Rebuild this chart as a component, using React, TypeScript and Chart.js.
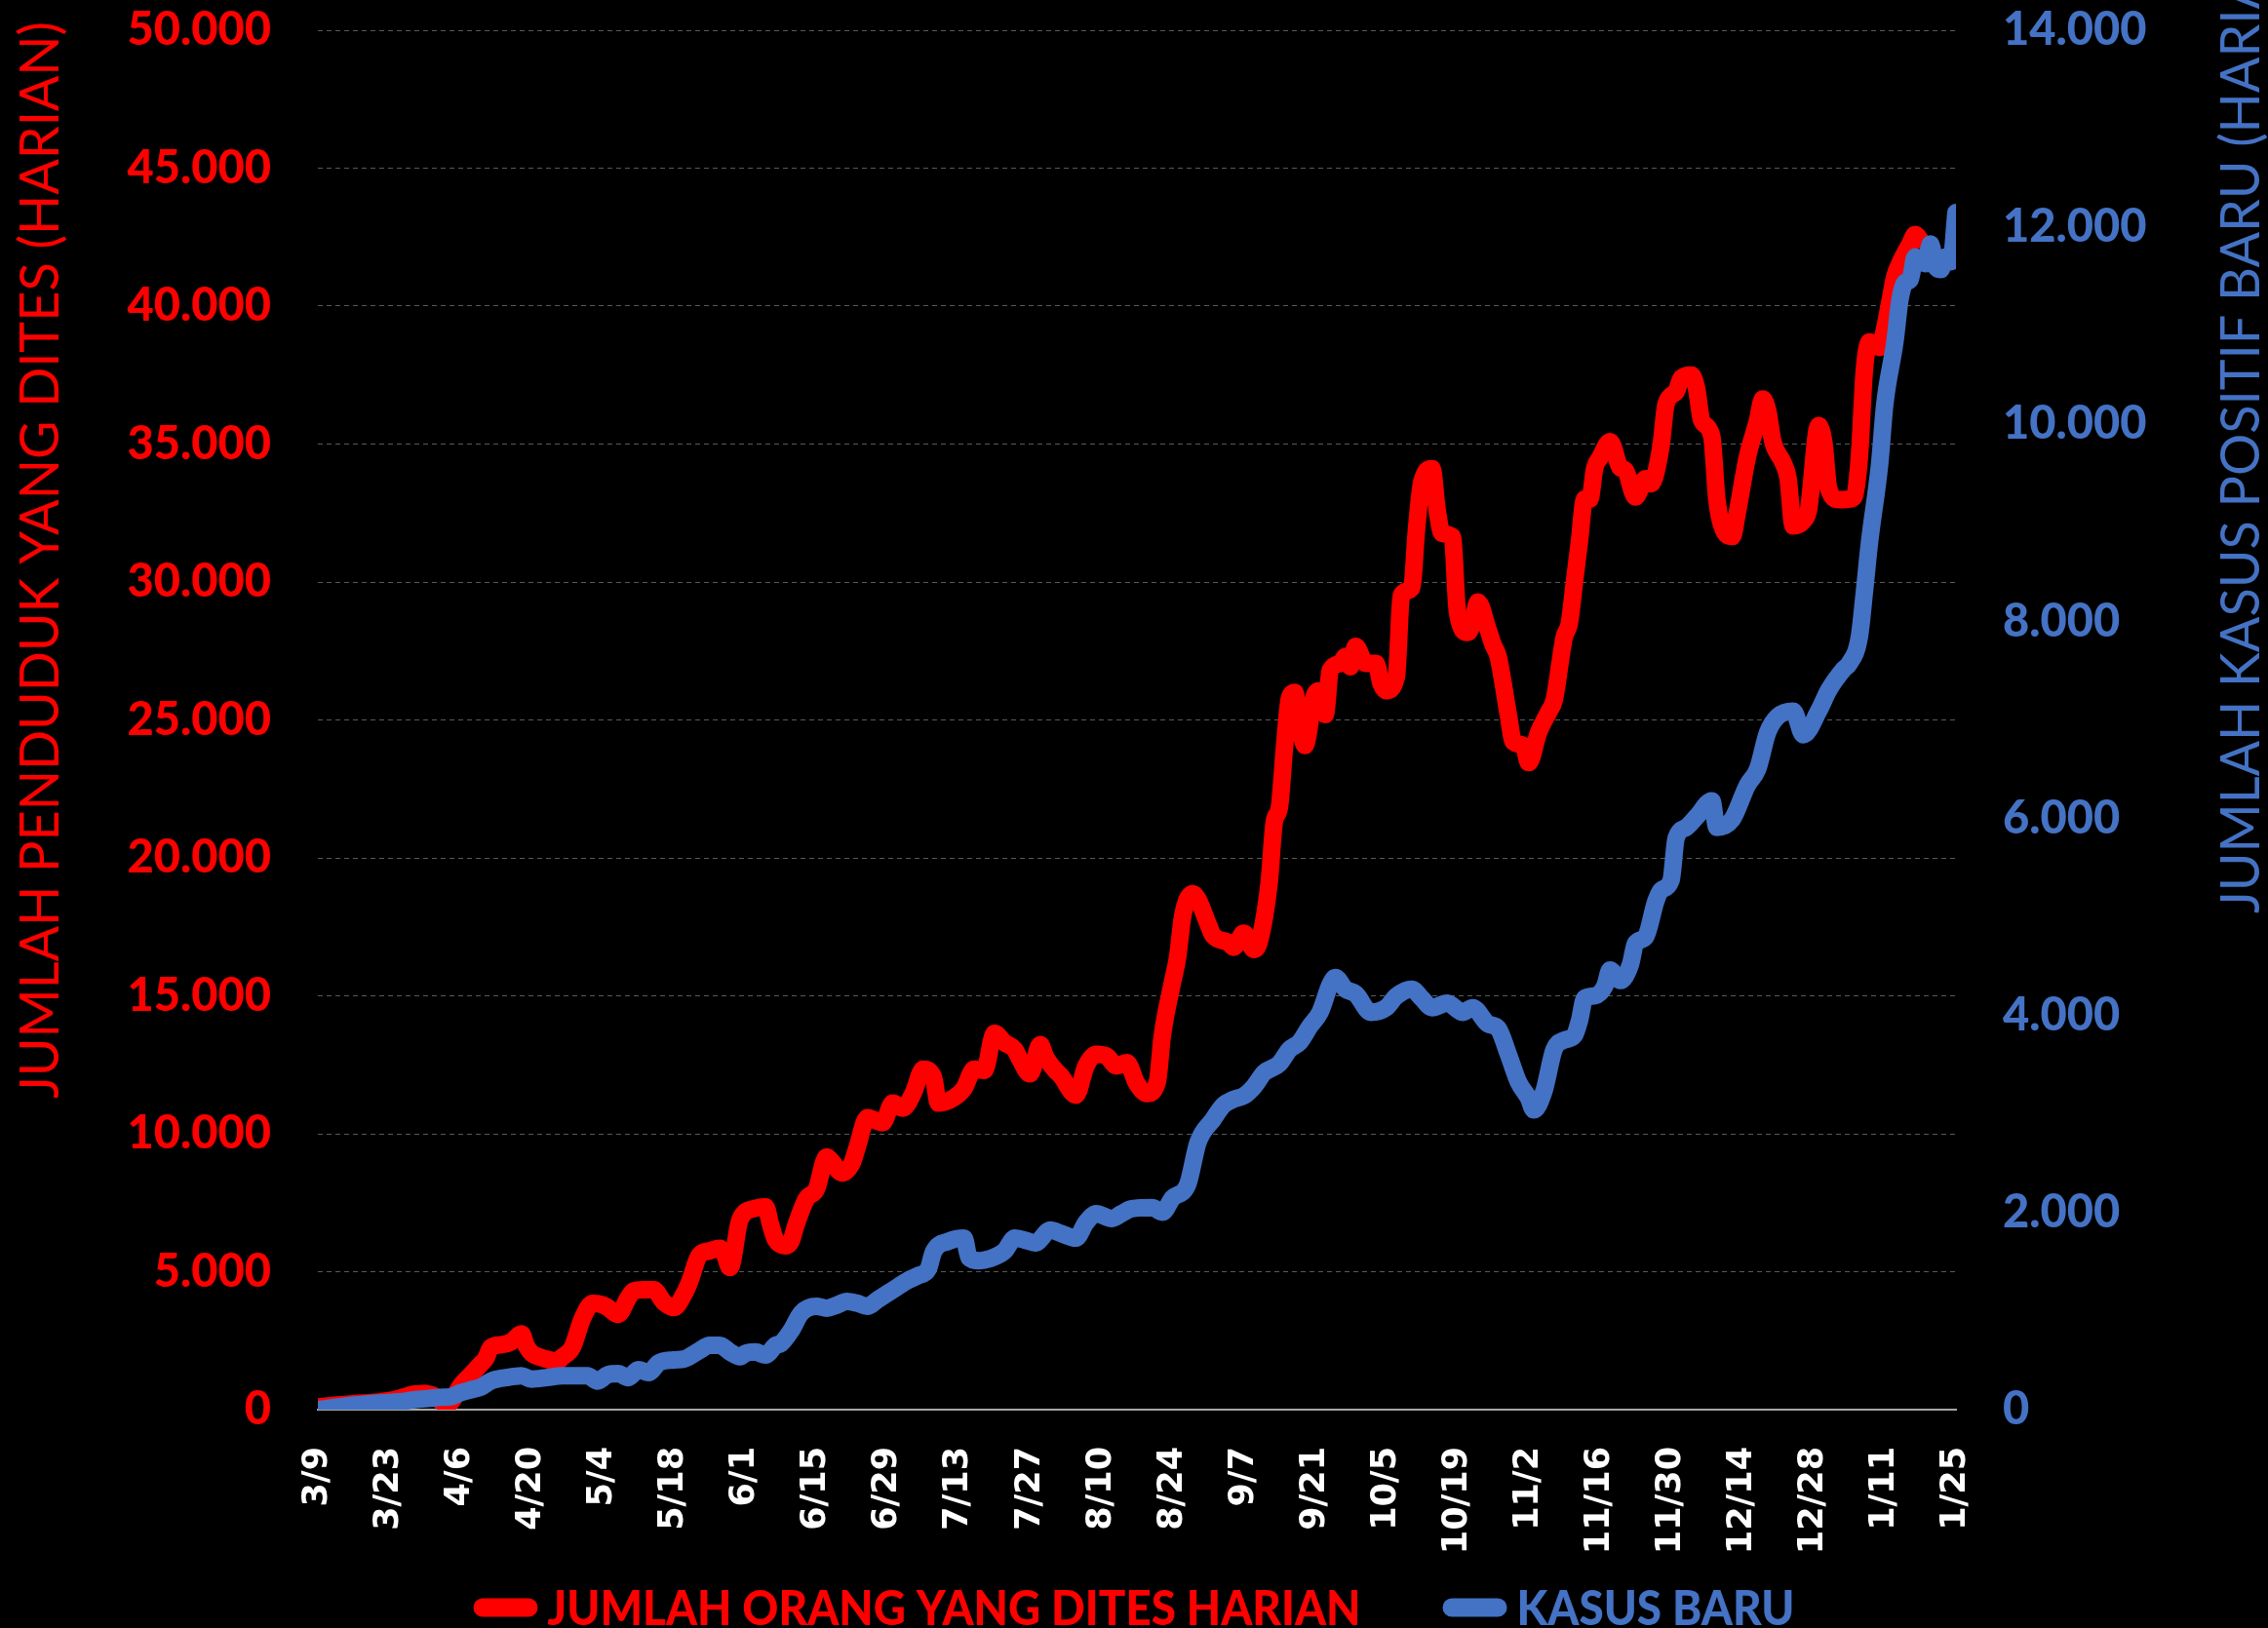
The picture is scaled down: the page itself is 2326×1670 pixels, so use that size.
import React, { useEffect, useRef } from "react";
import { Chart, registerables } from "chart.js";

Chart.register(...registerables);

const dateLabels = [
  "3/9", "3/23", "4/6", "4/20", "5/4", "5/18", "6/1", "6/15", "6/29", "7/13", "7/27", "8/10",
  "8/24", "9/7", "9/21", "10/5", "10/19", "11/2", "11/16", "11/30", "12/14", "12/28", "1/11", "1/25",
];

// day index counted from 3/9 (2020)
const testDays = [
  0, 3, 6, 9, 12, 15, 17, 19, 21, 23, 25, 26, 28, 30, 32, 33, 34, 36, 38, 40, 41, 42, 44, 46, 47, 48, 50,
  52, 54, 56, 57, 59, 61, 62, 64, 66, 68, 70, 72, 73, 75, 77, 79, 80, 81, 83, 86, 88, 89, 90, 92, 93, 94,
  96, 98, 100, 101, 103, 105, 106, 108, 110, 111, 113, 115, 117, 119, 121, 122, 125, 127, 129, 131, 133,
  135, 137, 138, 140, 142, 143, 145, 146, 149, 151, 153, 155, 157, 159, 161, 163, 165, 166, 168, 169, 170,
  172, 173, 175, 176, 179, 180, 182, 184, 185, 187, 188, 189, 190, 191, 192, 193, 194, 196, 197, 198, 199,
  201, 202, 203, 204, 206, 208, 209, 210, 212, 213, 215, 216, 217, 219, 220, 221, 223, 224, 226, 227, 228,
  230, 231, 232, 234, 235, 237, 238, 240, 242, 243, 245, 246, 247, 248, 249, 250, 251, 252, 254, 256, 257,
  259, 261, 262, 264, 265, 267, 268, 270, 271, 272, 274, 275, 276, 278, 279, 281, 283, 284, 285, 286, 288,
  289, 290, 292, 293, 295, 296, 297, 299, 301, 302, 303, 304, 305, 307, 308, 309, 310, 311, 313, 314, 315,
];
const testValues = [
  100, 150, 200, 240, 280, 360, 460, 570, 580, 480, 220, 250, 850, 1250, 1650, 1850, 2250, 2350, 2450, 2750,
  2300, 2050, 1880, 1780, 1740, 1900, 2250, 3300, 3850, 3800, 3700, 3450, 4050, 4300, 4350, 4350, 3900, 3700,
  4200, 4600, 5600, 5750, 5850, 5600, 5150, 6900, 7300, 7350, 6700, 6150, 5940, 6100, 6700, 7630, 7990, 9160,
  9000, 8580, 8940, 9500, 10580, 10450, 10400, 11110, 10930, 11460, 12340, 12050, 11110, 11300, 11640, 12340,
  12300, 13640, 13300, 13050, 12700, 12170, 13230, 12800, 12290, 12110, 11400, 12460, 12880, 12820, 12460,
  12580, 11810, 11460, 11870, 13570, 15500, 16400, 17900, 18700, 18500, 17600, 17180, 16930, 16760, 17270,
  16680, 16930, 19120, 21310, 21820, 24000, 25810, 26000, 24820, 24070, 25940, 26060, 25190, 26800, 27050,
  27300, 26930, 27670, 27050, 27050, 26310, 26060, 26560, 29530, 29780, 32010, 33620, 34110, 32630, 31760,
  31640, 28910, 28170, 28500, 29280, 28290, 27730, 27300, 25190, 24200, 24070, 23450, 24570, 25310, 25700,
  28000, 28500, 30000, 31500, 33000, 33000, 34140, 34500, 35090, 34140, 34050, 33080, 33750, 33560, 34900,
  36440, 36900, 37390, 37500, 37020, 35860, 35280, 32990, 32030, 31650, 32500, 34530, 35860, 36630, 36200,
  35090, 34330, 33750, 32030, 32220, 32600, 35670, 35090, 33370, 32990, 33000, 33100, 34500, 37700, 38700,
  38500, 39200, 40150, 41090, 41560, 42270, 42600, 42400,
];

const caseDays = [
  0, 3, 7, 10, 13, 16, 19, 22, 24, 26, 28, 30, 32, 34, 37, 40, 42, 45, 48, 53, 55, 57, 59, 61, 63, 65, 67,
  70, 72, 75, 77, 79, 81, 83, 84, 86, 88, 90, 91, 93, 95, 98, 100, 102, 104, 106, 108, 110, 112, 114, 116,
  118, 120, 121, 124, 127, 128, 130, 132, 135, 137, 139, 141, 144, 146, 149, 151, 153, 156, 158, 160, 164,
  166, 168, 171, 173, 176, 178, 180, 182, 184, 186, 189, 191, 193, 195, 197, 199, 200, 202, 204, 207, 210,
  212, 215, 217, 219, 222, 225, 227, 230, 232, 234, 236, 238, 239, 241, 243, 245, 247, 248, 249, 251, 253,
  254, 256, 258, 259, 261, 263, 264, 266, 267, 269, 271, 274, 275, 278, 281, 283, 285, 287, 290, 292, 295,
  297, 300, 301, 303, 304, 305, 307, 308, 310, 311, 312, 313, 314, 316, 317, 318, 319, 320, 321, 322,
];
const caseValues = [
  0, 20, 45, 60, 70, 80, 100, 115, 125, 130, 170, 200, 227, 290, 325, 345, 310, 325, 345, 345, 290, 356, 366,
  325, 405, 375, 475, 505, 515, 600, 653, 653, 585, 537, 570, 585, 553, 653, 670, 800, 980, 1049, 1030, 1060,
  1098, 1080, 1049, 1115, 1180, 1247, 1313, 1360, 1428, 1600, 1709, 1741, 1543, 1511, 1530, 1610, 1741, 1720,
  1692, 1823, 1790, 1741, 1900, 1989, 1940, 1990, 2039, 2050, 2004, 2147, 2288, 2712, 2948, 3090, 3150, 3184,
  3278, 3419, 3512, 3656, 3730, 3891, 4033, 4316, 4386, 4268, 4220, 4033, 4080, 4198, 4268, 4174, 4080, 4127,
  4033, 4080, 3915, 3868, 3608, 3325, 3160, 3042, 3231, 3656, 3750, 3800, 3950, 4175, 4200, 4303, 4462, 4355,
  4516, 4730, 4800, 5160, 5270, 5374, 5803, 5910, 6017, 6179, 5910, 5990, 6339, 6500, 6876, 7037, 7090, 6849,
  7090, 7304, 7519, 7570, 7841, 8300, 8800, 9600, 10200, 10840, 11270, 11440, 11470, 11700, 11630, 11830,
  11600, 11570, 11700, 11650, 12150,
];

const RED = "#ff0000";
const BLUE = "#4472c4";
const TEST_LABEL = "JUMLAH ORANG YANG DITES HARIAN";
const CASE_LABEL = "KASUS BARU";
const LEFT_TITLE = "JUMLAH PENDUDUK YANG DITES (HARIAN)";
const RIGHT_TITLE = "JUMLAH KASUS POSITIF BARU (HARIAN)";

const fmt = (v: number) => Math.round(v).toString().replace(/\B(?=(\d{3})+(?!\d))/g, ".");

const bgPlugin = {
  id: "blackBg",
  beforeDraw(chart: any) {
    const { ctx, width, height } = chart;
    ctx.save();
    ctx.fillStyle = "#000000";
    ctx.fillRect(0, 0, width, height);
    ctx.restore();
  },
};

const titlePlugin = {
  id: "axisTitles",
  afterDraw(chart: any) {
    const ctx = chart.ctx as CanvasRenderingContext2D;
    const area = chart.chartArea;
    ctx.save();
    ctx.font = "57px Lato";
    const sx = 1105 / ctx.measureText(LEFT_TITLE).width;
    const draw = (text: string, x: number, y: number, color: string) => {
      ctx.save();
      ctx.translate(x, y);
      ctx.rotate(-Math.PI / 2);
      ctx.scale(sx, 1);
      ctx.fillStyle = color;
      ctx.textAlign = "left";
      ctx.textBaseline = "alphabetic";
      ctx.fillText(text, 0, 0);
      ctx.restore();
    };
    draw(LEFT_TITLE, area.left - 266, area.bottom - 319, RED);
    draw(RIGHT_TITLE, area.right + 311, area.bottom - 509, BLUE);
    ctx.restore();
  },
};

// Legend drawn under the x axis: pill swatch + condensed bold text per dataset
const legendPlugin = {
  id: "pillLegend",
  afterDraw(chart: any) {
    const ctx = chart.ctx as CanvasRenderingContext2D;
    const datasets = chart.data.datasets;
    const swatchW = 66;
    const swatchH = 19;
    const gapText = 10;
    const gapItems = 84;
    const baseline = chart.height - 3;
    const centerY = chart.height - 21;
    ctx.save();
    ctx.font = "900 49px Lato";
    const sx = 834 / ctx.measureText(datasets[0].label).width;
    const widths = datasets.map((d: any) => ctx.measureText(d.label).width * sx);
    const total =
      widths.reduce((a: number, b: number) => a + b, 0) +
      datasets.length * (swatchW + gapText) +
      (datasets.length - 1) * gapItems;
    let x = (chart.width - total) / 2;
    datasets.forEach((d: any, i: number) => {
      ctx.fillStyle = d.borderColor;
      ctx.beginPath();
      (ctx as any).roundRect(x, centerY - swatchH / 2, swatchW, swatchH, swatchH / 2);
      ctx.fill();
      x += swatchW + gapText;
      ctx.save();
      ctx.translate(x, baseline);
      ctx.scale(sx, 1);
      ctx.textAlign = "left";
      ctx.textBaseline = "alphabetic";
      ctx.fillText(d.label, 0, 0);
      ctx.restore();
      x += widths[i] + gapItems;
    });
    ctx.restore();
  },
};

export default function App() {
  const ref = useRef<HTMLCanvasElement | null>(null);

  useEffect(() => {
    if (!ref.current) return;
    document.body.style.margin = "0";
    document.body.style.background = "#000";
    const chart = new Chart(ref.current, {
      type: "line",
      data: {
        datasets: [
          {
            label: TEST_LABEL,
            data: testDays.map((d, i) => ({ x: d, y: testValues[i] })),
            yAxisID: "y",
            borderColor: RED,
            backgroundColor: RED,
            borderWidth: 18,
            pointRadius: 0,
            cubicInterpolationMode: "monotone",
            borderJoinStyle: "round",
            borderCapStyle: "round",
            order: 1,
          },
          {
            label: CASE_LABEL,
            data: caseDays.map((d, i) => ({ x: d, y: caseValues[i] })),
            yAxisID: "y1",
            borderColor: BLUE,
            backgroundColor: BLUE,
            borderWidth: 18,
            pointRadius: 0,
            cubicInterpolationMode: "monotone",
            borderJoinStyle: "round",
            borderCapStyle: "round",
            order: 0,
          },
        ],
      },
      options: {
        responsive: false,
        animation: false,
        devicePixelRatio: 1,
        layout: { padding: { top: 31, left: 0, right: 0, bottom: 0 } },
        plugins: {
          tooltip: { enabled: false },
          legend: { display: false },
        },
        scales: {
          x: {
            type: "linear",
            min: 0,
            max: 322,
            grid: { display: false, drawTicks: false },
            border: { display: true, color: "#a6a6a6", width: 2 },
            ticks: {
              stepSize: 14,
              autoSkip: false,
              minRotation: 90,
              maxRotation: 90,
              color: "#ffffff",
              padding: 38,
              font: { family: "DejaVu Sans", weight: "bold", size: 35 },
              callback: (v: any) => dateLabels[Math.round(Number(v) / 14)] ?? "",
            },
            afterFit(scale: any) {
              scale.height = 224;
            },
          },
          y: {
            position: "left",
            min: 0,
            max: 50000,
            grid: {
              color: "#595959",
              lineWidth: 1,
              drawTicks: true,
              tickLength: 48,
              tickColor: "rgba(0,0,0,0)",
            },
            border: { display: false, dash: [5, 4] },
            ticks: {
              stepSize: 5000,
              color: RED,
              padding: 0,
              font: { family: "Lato", weight: "900", size: 47 },
              callback: (v: any) => fmt(Number(v)),
            },
            afterFit(scale: any) {
              scale.width = 326;
            },
          },
          y1: {
            position: "right",
            min: 0,
            max: 14000,
            grid: {
              drawOnChartArea: false,
              drawTicks: true,
              tickLength: 48,
              tickColor: "rgba(0,0,0,0)",
            },
            border: { display: false },
            ticks: {
              stepSize: 2000,
              color: BLUE,
              padding: 0,
              font: { family: "Lato", weight: "900", size: 47 },
              callback: (v: any) => fmt(Number(v)),
            },
            afterFit(scale: any) {
              scale.width = 320;
            },
          },
        },
      },
      plugins: [bgPlugin, titlePlugin, legendPlugin],
    } as any);
    return () => chart.destroy();
  }, []);

  return (
    <div style={{ position: "fixed", left: 0, top: 0, width: 2326, height: 1670, background: "#000" }}>
      <canvas ref={ref} width={2326} height={1670} style={{ display: "block" }} />
    </div>
  );
}
